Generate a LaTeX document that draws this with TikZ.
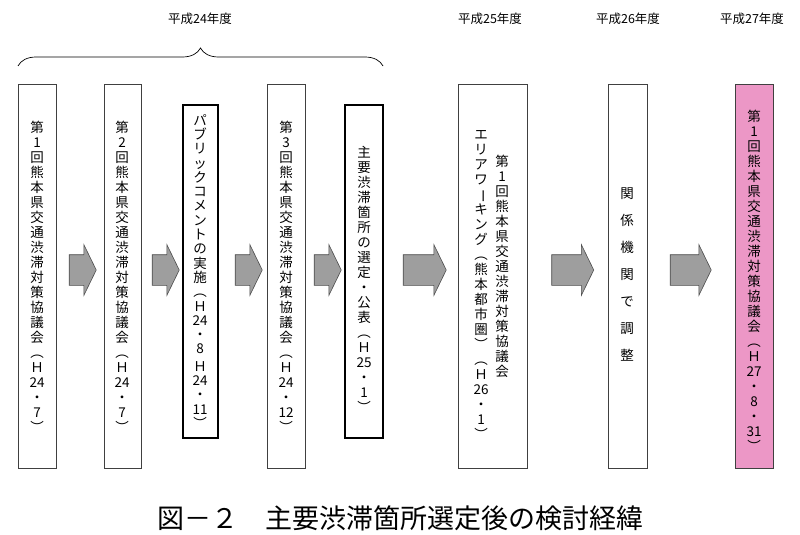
\documentclass[tikz,border=0pt]{standalone}
\usepackage{fontspec}
\setmainfont{Noto Sans CJK JP}
\usetikzlibrary{shapes.arrows,decorations.pathreplacing}
\newcommand{\chobar}{\rotatebox[origin=c]{-90}{ー}}
\newcommand{\lp}{︵}
\newcommand{\rp}{︶}
\definecolor{pinkfill}{HTML}{EC97C6}
\begin{document}
\begin{tikzpicture}[x=1pt,y=-1pt,
  box/.style={draw=black!75,line width=0.8pt},
  tbox/.style={draw=black,line width=1.8pt},
  vt/.style={align=center,inner sep=0pt,anchor=north,font=\fontsize{13.5}{15}\selectfont},
  arr/.style={single arrow,draw=black!70,fill=black!38,line width=0.6pt,minimum height=27pt,text height=15pt,text depth=15pt,single arrow head extend=10pt,single arrow tip angle=128,inner sep=0pt,anchor=center},
  yr/.style={font=\fontsize{12.5}{14}\selectfont}]
\useasboundingbox (0,0) rectangle (800,535);
% boxes
\draw[box] (18,84) rectangle (56,468);
\draw[box] (104,84) rectangle (141,468);
\draw[tbox] (183,105) rectangle (218,438);
\draw[box] (267,84) rectangle (305,468);
\draw[tbox] (345,105) rectangle (383,438);
\draw[box] (458,84) rectangle (527,468);
\draw[box] (608,84) rectangle (647,468);
\draw[box,fill=pinkfill] (735,84) rectangle (773,468);
% texts
\node[vt] (t1) at (37,121) {第\\1\\回\\熊\\本\\県\\交\\通\\渋\\滞\\対\\策\\協\\議\\会\\\lp\\Ｈ\\24\\・\\7\\\rp};
\node[vt] (t2) at (122,121) {第\\2\\回\\熊\\本\\県\\交\\通\\渋\\滞\\対\\策\\協\\議\\会\\\lp\\Ｈ\\24\\・\\7\\\rp};
\node[vt,font=\fontsize{13.5}{14.3}\selectfont] (t3) at (200,114) {パ\\ブ\\リ\\ッ\\ク\\コ\\メ\\ン\\ト\\の\\実\\施\\\lp\\Ｈ\\24\\・\\8\\[3pt]Ｈ\\24\\・\\11\\\rp};
\node[vt] (t4) at (286,121) {第\\3\\回\\熊\\本\\県\\交\\通\\渋\\滞\\対\\策\\協\\議\\会\\\lp\\Ｈ\\24\\・\\12\\\rp};
\node[vt] (t5) at (364,146) {主\\要\\渋\\滞\\箇\\所\\の\\選\\定\\・\\公\\表\\\lp\\Ｈ\\25\\・\\1\\\rp};
\node[vt] (t6a) at (502,155) {第\\1\\回\\熊\\本\\県\\交\\通\\渋\\滞\\対\\策\\協\\議\\会};
\node[vt] (t6b) at (481,130) {エ\\リ\\ア\\ワ\\\chobar\\キ\\ン\\グ\\\lp\\熊\\本\\都\\市\\圏\\\rp\\\lp\\Ｈ\\26\\・\\1\\\rp};
\node[vt,font=\fontsize{13.5}{27}\selectfont] (t7) at (627,188) {関\\係\\機\\関\\で\\調\\整};
\node[vt] (t8) at (754,110) {第\\1\\回\\熊\\本\\県\\交\\通\\渋\\滞\\対\\策\\協\\議\\会\\\lp\\Ｈ\\27\\・\\8\\・\\31\\\rp};
% arrows
\node[arr] (a1) at (79,270) {};
\node[arr] (a2) at (162,270) {};
\node[arr] (a3) at (245,270) {};
\node[arr] (a4) at (324,270) {};
\node[arr,minimum height=43pt] (a5) at (421,270) {};
\node[arr,minimum height=42pt] (a6) at (569,270) {};
\node[arr,minimum height=41pt] (a7) at (687,270) {};
% brace and years
\coordinate (bl) at (18,66);
\coordinate (br) at (383,66);
\draw[decorate,decoration={brace,amplitude=18pt},line width=0.7pt] (bl) -- (br);
\node[yr] (y24) at (200,19) {平成24年度};
\node[yr] (y25) at (490,19) {平成25年度};
\node[yr] (y26) at (628,19) {平成26年度};
\node[yr] (y27) at (752,19) {平成27年度};
\node[font=\fontsize{27}{30}\selectfont] (cap) at (400,518) {図－２　主要渋滞箇所選定後の検討経緯};
\end{tikzpicture}
\end{document}
